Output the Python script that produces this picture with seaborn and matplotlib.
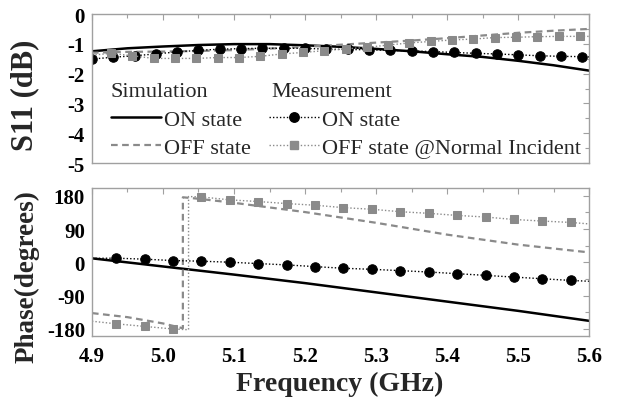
import matplotlib
matplotlib.use("Agg")
import matplotlib.pyplot as plt
from matplotlib.lines import Line2D
import seaborn as sns

# ---------------- data ----------------
# S11 magnitude (dB)
sim_freq = [4.90, 4.95, 5.00, 5.05, 5.10, 5.15, 5.20, 5.25, 5.30, 5.35, 5.40, 5.45, 5.50, 5.55, 5.60]
sim_on_mag = [-1.25, -1.15, -1.09, -1.04, -1.01, -1.01, -1.05, -1.10, -1.17, -1.25, -1.35, -1.44, -1.57, -1.72, -1.90]
sim_off_mag = [-1.30, -1.27, -1.26, -1.24, -1.21, -1.16, -1.10, -1.03, -0.96, -0.89, -0.81, -0.72, -0.63, -0.56, -0.50]

meas_on_mag_freq = [4.90, 4.93, 4.96, 4.99, 5.02, 5.05, 5.08, 5.11, 5.14, 5.17, 5.20, 5.23,
                    5.26, 5.29, 5.32, 5.35, 5.38, 5.41, 5.44, 5.47, 5.50, 5.53, 5.56, 5.59, 5.60]
meas_on_mag = [-1.51, -1.45, -1.40, -1.34, -1.27, -1.22, -1.18, -1.16, -1.15, -1.15, -1.15, -1.18,
               -1.19, -1.20, -1.22, -1.24, -1.26, -1.29, -1.32, -1.34, -1.37, -1.40, -1.42, -1.43, -1.44]

meas_off_mag_freq = [4.900, 4.927, 4.957, 4.987, 5.017, 5.047, 5.077, 5.107, 5.137, 5.167, 5.197, 5.227,
                     5.257, 5.287, 5.317, 5.347, 5.377, 5.407, 5.437, 5.467, 5.497, 5.527, 5.557, 5.587, 5.600]
meas_off_mag = [-1.38, -1.32, -1.40, -1.49, -1.49, -1.49, -1.46, -1.46, -1.42, -1.34, -1.29, -1.23,
                -1.17, -1.12, -1.04, -0.97, -0.92, -0.87, -0.84, -0.79, -0.78, -0.76, -0.75, -0.75, -0.75]

# Phase (degrees)
sim_on_ph_freq = [4.90, 5.00, 5.10, 5.20, 5.30, 5.40, 5.50, 5.60]
sim_on_ph = [11, -11, -33, -56, -81, -106, -131, -158]

sim_off_ph_freq = [4.90, 4.95, 5.00, 5.028, 5.028, 5.05, 5.10, 5.20, 5.30, 5.40, 5.50, 5.60]
sim_off_ph = [-137, -148, -165, -178, 176, 172, 161, 136, 107, 75, 48, 27]

meas_on_ph_freq = [4.900, 4.934, 4.974, 5.014, 5.054, 5.094, 5.134, 5.174, 5.214, 5.254, 5.294,
                   5.334, 5.374, 5.414, 5.454, 5.494, 5.534, 5.574, 5.600]
meas_on_ph = [11, 11.4, 8.7, 5.0, 3.2, 0.5, -3.2, -6.8, -11.4, -15.9, -18.7,
              -22.3, -26.0, -30.5, -35.1, -39.7, -44.2, -48.8, -51]

meas_off_ph_freq = [4.900, 4.934, 4.974, 5.014, 5.036, 5.036, 5.054, 5.094, 5.134, 5.174, 5.214, 5.254,
                    5.294, 5.334, 5.374, 5.414, 5.454, 5.494, 5.534, 5.574, 5.600]
meas_off_ph = [-159, -166, -173, -180, -182, 178, 177, 169, 164.5, 159, 154.5, 148,
               143.6, 137, 132.6, 127, 122.6, 116, 111.7, 108, 104]

x_ticks = [4.9, 5.0, 5.1, 5.2, 5.3, 5.4, 5.5, 5.6]
x_tick_labels = ["4.9", "5.0", "5.1", "5.2", "5.3", "5.4", "5.5", "5.6"]
mag_ticks = [0, -1, -2, -3, -4, -5]
ph_ticks = [180, 90, 0, -90, -180]

# marker positions (indices into the series above)
meas_on_mag_marks = list(range(0, 24))
meas_off_mag_marks = list(range(1, 24))
meas_on_ph_marks = list(range(1, 18))
meas_off_ph_marks = [1, 2, 3] + list(range(6, 20))

# ---------------- style ----------------
sns.set_theme(style="white")
plt.rcParams["font.family"] = ["Liberation Serif", "DejaVu Serif"]
plt.rcParams["axes.unicode_minus"] = False

BLACK = "#000000"
GRAY = "#8a8a8a"
SPINE = "#a0a0a0"
dotted = (0, (1, 1.5))
dashed = (0, (3, 2))

fig = plt.figure(figsize=(6.17, 4.06), dpi=100)
ax1 = fig.add_axes([0.149, 0.596, 0.806, 0.367])
ax2 = fig.add_axes([0.149, 0.169, 0.806, 0.3645])

# ---- top panel ----
sns.lineplot(x=sim_freq, y=sim_on_mag, ax=ax1, color=BLACK, lw=1.8,
             estimator=None, sort=False)
sns.lineplot(x=sim_freq, y=sim_off_mag, ax=ax1, color=GRAY, lw=1.6, linestyle=dashed,
             estimator=None, sort=False)
sns.lineplot(x=meas_on_mag_freq, y=meas_on_mag, ax=ax1, color=BLACK, lw=1.0, linestyle=dotted,
             marker="o", markersize=6.8, markeredgecolor=BLACK, markevery=meas_on_mag_marks,
             estimator=None, sort=False)
sns.lineplot(x=meas_off_mag_freq, y=meas_off_mag, ax=ax1, color=GRAY, lw=1.0, linestyle=dotted,
             marker="s", markersize=5.5, markeredgecolor=GRAY, markevery=meas_off_mag_marks,
             estimator=None, sort=False)

# ---- bottom panel ----
sns.lineplot(x=sim_on_ph_freq, y=sim_on_ph, ax=ax2, color=BLACK, lw=1.8,
             estimator=None, sort=False)
sns.lineplot(x=sim_off_ph_freq, y=sim_off_ph, ax=ax2, color=GRAY, lw=1.6, linestyle=dashed,
             estimator=None, sort=False)
sns.lineplot(x=meas_on_ph_freq, y=meas_on_ph, ax=ax2, color=BLACK, lw=1.0, linestyle=dotted,
             marker="o", markersize=6.8, markeredgecolor=BLACK, markevery=meas_on_ph_marks,
             estimator=None, sort=False)
sns.lineplot(x=meas_off_ph_freq, y=meas_off_ph, ax=ax2, color=GRAY, lw=1.0, linestyle=dotted,
             marker="s", markersize=5.5, markeredgecolor=GRAY, markevery=meas_off_ph_marks,
             estimator=None, sort=False)

for ax in (ax1, ax2):
    ax.set_xlim(4.9, 5.6)
    ax.set_xticks(x_ticks)
    ax.set_xticks([4.95, 5.05, 5.15, 5.25, 5.35, 5.45, 5.55], minor=True)
    for s in ax.spines.values():
        s.set_color(SPINE)
        s.set_linewidth(1.0)
    ax.tick_params(which="both", direction="in", color=SPINE, top=True, right=True,
                   labelsize=15, labelcolor=BLACK)
    ax.tick_params(which="major", length=4, width=0.8)
    ax.tick_params(which="minor", length=3, width=0.8)

ax1.set_ylim(-5, 0)
ax1.set_yticks(mag_ticks)
ax1.set_yticks([-0.5, -1.5, -2.5, -3.5, -4.5], minor=True)
ax1.set_yticklabels([str(t) for t in mag_ticks])
ax1.set_xticklabels([])
ax1.tick_params(axis="y", pad=5)

ax2.set_ylim(-200, 200)
ax2.set_yticks(ph_ticks)
ax2.set_yticks([135, 45, -45, -135], minor=True)
ax2.set_yticklabels([str(t) for t in ph_ticks])
ax2.set_xticklabels(x_tick_labels)
ax2.tick_params(axis="y", pad=5)
ax2.tick_params(axis="x", pad=7)

for ax in (ax1, ax2):
    for lab in ax.get_xticklabels() + ax.get_yticklabels():
        lab.set_fontweight("bold")

ax1.set_xlabel("")
ax1.set_ylabel("S11 (dB)", fontsize=22, fontweight="bold")
ax1.yaxis.set_label_coords(-0.105, 0.463)
ax2.set_ylabel("Phase(degrees)", fontsize=19.5, fontweight="bold")
ax2.yaxis.set_label_coords(-0.105, 0.414)
ax2.set_xlabel("Frequency (GHz)", fontsize=20, fontweight="bold")
ax2.xaxis.set_label_coords(0.498, -0.235)

# ---- legend ----
handles = [
    Line2D([], [], color=BLACK, lw=1.8),
    Line2D([], [], color=GRAY, lw=1.6, linestyle=dashed),
    Line2D([], [], color=BLACK, lw=1.0, linestyle=dotted, marker="o", markersize=6.8),
    Line2D([], [], color=GRAY, lw=1.0, linestyle=dotted, marker="s", markersize=5.5),
]
labels = ["ON state", "OFF state", "ON state", "OFF state @Normal Incident"]
ax1.legend(handles, labels, ncol=2, loc="upper left", bbox_to_anchor=(0.038, 0.36),
           frameon=False, fontsize=16, handlelength=2.25, handletextpad=0.15,
           columnspacing=0.8, labelspacing=0.35, borderpad=0, borderaxespad=0,
           numpoints=1)
ax1.text(0.038, 0.478, "Simulation", transform=ax1.transAxes, fontsize=16,
         va="center", ha="left")
ax1.text(0.36, 0.478, "Measurement", transform=ax1.transAxes, fontsize=16,
         va="center", ha="left")

fig.savefig("out.png", dpi=100)
